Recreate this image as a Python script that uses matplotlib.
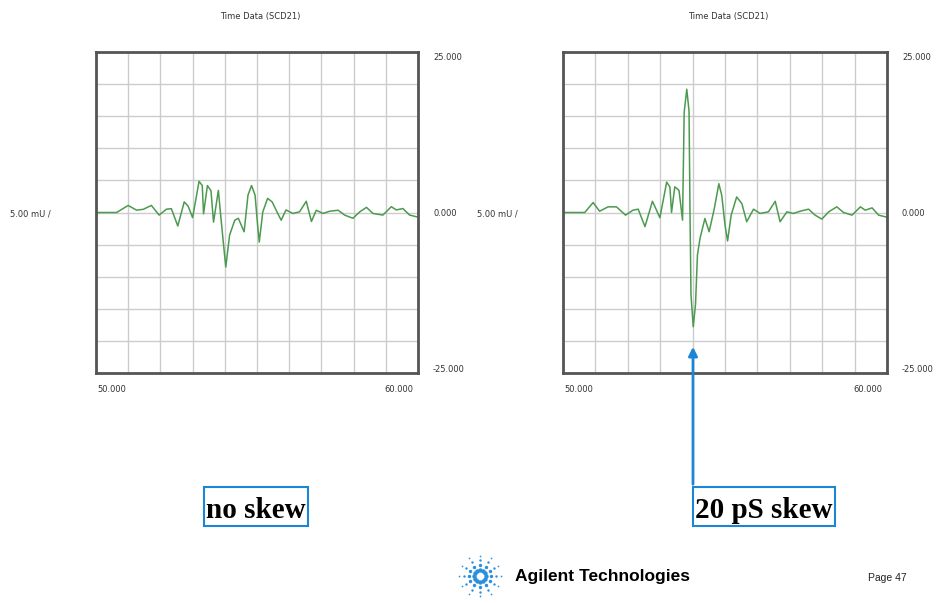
import numpy as np
import matplotlib.pyplot as plt
from matplotlib.patches import Rectangle, FancyArrowPatch

# trace read off the "no skew" screen (time in ns, amplitude in mU)
t_noskew = [50.0, 50.64, 51.0, 51.26, 51.47, 51.72, 51.96, 52.19, 52.34, 52.54, 52.74,
            52.86, 53.0, 53.2, 53.3, 53.34, 53.46, 53.57, 53.65, 53.8, 53.9, 54.03,
            54.15, 54.31, 54.42, 54.6, 54.72, 54.83, 54.94, 55.02, 55.07, 55.18, 55.33,
            55.47, 55.59, 55.75, 55.9, 56.11, 56.32, 56.53, 56.69, 56.84, 57.05, 57.26,
            57.52, 57.72, 57.98, 58.19, 58.4, 58.6, 58.91, 59.17, 59.33, 59.53, 59.74,
            59.94, 60.0]
v_noskew = [0.0, 0.0, 1.1, 0.36, 0.5, 1.1, -0.4, 0.52, 0.6, -2.1, 1.65,
            1.0, -0.8, 4.85, 4.2, -0.2, 4.2, 3.4, -1.5, 3.45, -1.9, -8.5,
            -3.5, -1.2, -0.9, -3.0, 2.7, 4.2, 2.7, -2.0, -4.6, 0.1, 2.2,
            1.65, 0.4, -1.2, 0.4, -0.15, 0.1, 1.75, -1.4, 0.35, -0.15, 0.2,
            0.35, -0.4, -0.9, 0.1, 0.8, -0.15, -0.4, 0.9, 0.4, 0.62, -0.4,
            -0.65, -0.7]

t_skew = [50.0, 50.67, 50.93, 51.13, 51.39, 51.65, 51.93, 52.16, 52.32, 52.53, 52.76,
          52.84, 52.99, 53.2, 53.3, 53.35, 53.45, 53.58, 53.69, 53.74, 53.82, 53.89,
          53.92, 53.95, 54.02, 54.09, 54.15, 54.23, 54.38, 54.51, 54.67, 54.81, 54.9,
          55.0, 55.08, 55.19, 55.36, 55.52, 55.67, 55.88, 56.08, 56.34, 56.55, 56.7,
          56.91, 57.11, 57.32, 57.58, 57.78, 57.99, 58.2, 58.45, 58.66, 58.92, 59.18,
          59.33, 59.54, 59.74, 59.95, 60.0]
v_skew = [0.0, 0.0, 1.55, 0.2, 0.88, 0.88, -0.41, 0.36, 0.52, -2.2, 1.75,
          0.88, -0.82, 4.74, 3.97, 0.0, 4.0, 3.45, -1.19, 15.6, 19.2, 15.8,
          0.0, -12.8, -17.8, -14.3, -6.6, -4.0, -0.93, -3.0, 0.62, 4.48, 2.68,
          -1.96, -4.43, -0.41, 2.42, 1.39, -1.44, 0.52, -0.15, 0.1, 1.75, -1.44,
          0.1, -0.15, 0.2, 0.52, -0.41, -1.03, 0.1, 0.88, 0.0, -0.41, 0.88,
          0.36, 0.72, -0.41, -0.67, -0.7]

panels = [("no skew", t_noskew, v_noskew), ("20 pS skew", t_skew, v_skew)]
x_lim = (50, 60)
y_lim = (-25, 25)
x_ticks = ["50.000", "60.000"]
y_ticks = ["25.000", "0.000", "-25.000"]
scale_label = "5.00 mU /"
title = "Time Data (SCD21)"

W, H = 950, 603


def fx(px):
    return px / W


def fy(py):
    return 1 - py / H


fig = plt.figure(figsize=(9.5, 6.03), dpi=100)
green = "#4c9a4f"
blue = "#1a86d4"
small = dict(fontsize=6, color="#333333", family=["Liberation Sans Narrow", "DejaVu Sans"])

boxes = [(96, 418), (563, 887)]
for (name, t, v), (x0, x1) in zip(panels, boxes):
    ax = fig.add_axes([fx(x0), fy(373), fx(x1) - fx(x0), fy(52) - fy(373)])
    ax.plot(t, v, color=green, lw=1.1)
    ax.set_xlim(*x_lim)
    ax.set_ylim(*y_lim)
    ax.set_xticks(np.arange(50, 61, 1))
    ax.set_yticks(np.arange(-25, 26, 5))
    ax.tick_params(length=0, labelbottom=False, labelleft=False)
    ax.grid(color="#cccccc", lw=1)
    for s in ax.spines.values():
        s.set_linewidth(2)
        s.set_color("#555555")

    fig.text(fx((x0 + x1) / 2 + 3), fy(17), title, ha="center", va="center", **small)
    fig.text(fx(x1 + 15), fy(58), y_ticks[0], ha="left", va="center", **small)
    fig.text(fx(x1 + 15), fy(214), y_ticks[1], ha="left", va="center", **small)
    fig.text(fx(x1 + 15), fy(370), y_ticks[2], ha="left", va="center", **small)
    fig.text(fx(x0 + 1), fy(389), x_ticks[0], ha="left", va="center", **small)
    fig.text(fx(x1 - 5), fy(389), x_ticks[1], ha="right", va="center", **small)
    fig.text(fx(x0 - 86), fy(214), scale_label, ha="left", va="center", **small)

# labels in blue boxes
label_boxes = [(204, 308), (693, 835)]
for (name, t, v), (bx0, bx1) in zip(panels, label_boxes):
    fig.add_artist(Rectangle((fx(bx0), fy(526)), fx(bx1) - fx(bx0), fy(487) - fy(526),
                             transform=fig.transFigure, fill=False, ec=blue, lw=1.5))
    fig.text(fx((bx0 + bx1) / 2), fy(510), name, ha="center", va="center",
             fontsize=21, fontweight="bold", family="Liberation Serif", color="black")

# arrow pointing at the skewed spike
fig.add_artist(FancyArrowPatch((fx(693), fy(487)), (fx(693), fy(344)),
                               transform=fig.transFigure, arrowstyle="-|>",
                               mutation_scale=13, color=blue, lw=2))

# Agilent logo
lax = fig.add_axes([fx(455), fy(600), fx(505) - fx(455), fy(552) - fy(600)])
lax.set_xlim(-1, 1)
lax.set_ylim(-1, 1)
lax.axis("off")
ang = np.linspace(0, 2 * np.pi, 12, endpoint=False)
for r, sz in [(0.25, 10), (0.45, 6), (0.65, 3), (0.85, 1.5)]:
    lax.scatter(r * np.cos(ang), r * np.sin(ang), s=sz, color="#2a8fdc", lw=0)
fig.text(fx(515), fy(577), "Agilent Technologies", ha="left", va="center",
         fontsize=12.5, fontweight="bold", family=["Liberation Sans", "DejaVu Sans"])
fig.text(fx(868), fy(578), "Page 47", ha="left", va="center", fontsize=7.5,
         family=["Liberation Sans", "DejaVu Sans"], color="#222222")

fig.savefig("out.png", dpi=100)
